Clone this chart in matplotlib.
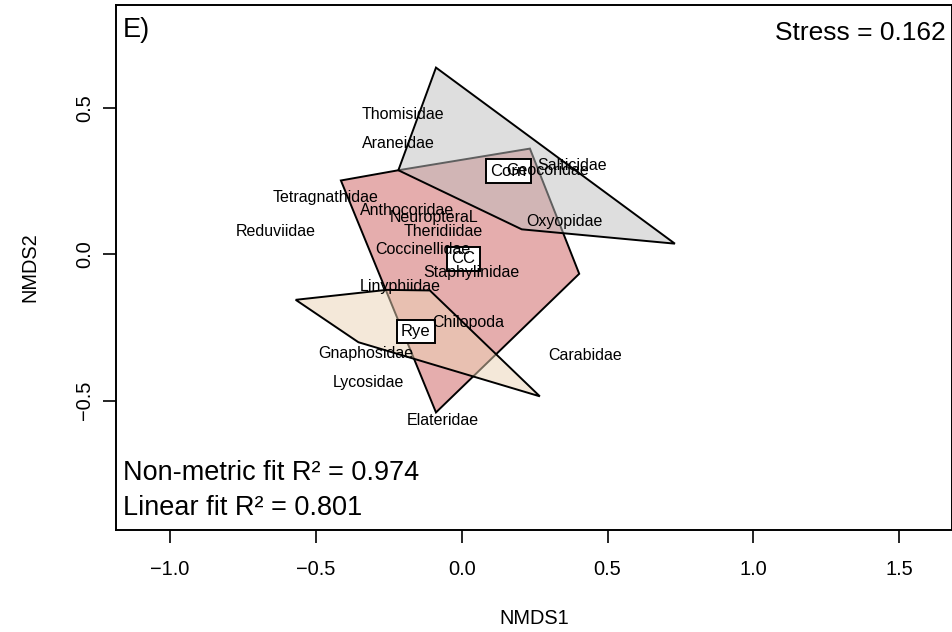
import matplotlib
matplotlib.use("Agg")
import matplotlib.pyplot as plt
from matplotlib.patches import Polygon

plt.rcParams['font.family'] = ['Liberation Sans', 'DejaVu Sans']

# Convex hull vertices of each group (NMDS1, NMDS2)
cc_x = [-0.414, -0.217, 0.234, 0.403, -0.088]
cc_y = [0.253, 0.288, 0.362, -0.066, -0.540]
corn_x = [-0.088, -0.217, 0.206, 0.731]
corn_y = [0.639, 0.288, 0.086, 0.037]
rye_x = [-0.569, -0.257, -0.109, 0.268, -0.354]
rye_y = [-0.155, -0.121, -0.123, -0.485, -0.300]

# Group label positions
groups = ["Corn", "CC", "Rye"]
group_x = [0.160, 0.006, -0.157]
group_y = [0.285, -0.015, -0.263]

# Species scores
species = ["Thomisidae", "Araneidae", "Salticidae", "Geocoridae", "Tetragnathidae",
           "Anthocoridae", "NeuropteraL", "Theridiidae", "Reduviidae", "Oxyopidae",
           "Coccinellidae", "Staphylinidae", "Linyphiidae", "Chilopoda", "Gnaphosidae",
           "Carabidae", "Lycosidae", "Elateridae"]
sp_x = [-0.200, -0.217, 0.380, 0.294, -0.465, -0.188, -0.095, -0.063, -0.637, 0.352,
        -0.134, 0.034, -0.212, 0.023, -0.329, 0.423, -0.319, -0.063]
sp_y = [0.478, 0.379, 0.305, 0.288, 0.196, 0.151, 0.126, 0.079, 0.079, 0.113,
        0.017, -0.061, -0.110, -0.232, -0.340, -0.344, -0.437, -0.568]

x_ticks = [-1.0, -0.5, 0.0, 0.5, 1.0, 1.5]
y_ticks = [-0.5, 0.0, 0.5]

fig = plt.figure(figsize=(9.53, 6.32), dpi=100)
ax = fig.add_axes([116/953, 102/632, 836/953, 525/632])
ax.set_xlim(-1.185, 1.681)
ax.set_ylim(-0.942, 0.853)

ax.add_patch(Polygon(list(zip(cc_x, cc_y)), closed=True, facecolor=(205/255, 92/255, 92/255, 0.5),
                     edgecolor='black', lw=1.4, zorder=2))
ax.add_patch(Polygon(list(zip(corn_x, corn_y)), closed=True, facecolor=(190/255, 190/255, 190/255, 0.5),
                     edgecolor='black', lw=1.4, zorder=3))
ax.add_patch(Polygon(list(zip(rye_x, rye_y)), closed=True, facecolor=(235/255, 211/255, 181/255, 0.5),
                     edgecolor='black', lw=1.4, zorder=4))

for g, gx, gy in zip(groups, group_x, group_y):
    ax.text(gx, gy, g, ha='center', va='center', fontsize=12, zorder=5,
            bbox=dict(boxstyle='square,pad=0.25', facecolor='white', edgecolor='black', lw=1.4))

for s, x, y in zip(species, sp_x, sp_y):
    ax.text(x, y, s, ha='center', va='center', fontsize=11.5, zorder=6)

ax.set_xticks(x_ticks)
ax.set_xticklabels([f"{v:.1f}".replace('-', '\u2212') for v in x_ticks])
ax.set_yticks(y_ticks)
ax.set_yticklabels([f"{v:.1f}".replace('-', '\u2212') for v in y_ticks], rotation=90, va='center')
ax.tick_params(direction='out', length=9.5, width=1.2, labelsize=14.4, pad=6)
ax.tick_params(axis='x', pad=12)
for sp in ax.spines.values():
    sp.set_linewidth(1.4)

ax.set_xlabel("NMDS1", fontsize=14.4, labelpad=22)
ax.set_ylabel("NMDS2", fontsize=14.4, labelpad=26)

ax.text(0.008, 0.977, "E)", transform=ax.transAxes, ha='left', va='top', fontsize=19.5)
ax.text(0.992, 0.970, "Stress = 0.162", transform=ax.transAxes, ha='right', va='top', fontsize=19)
ax.text(0.008, 0.095, "Non-metric fit R\u00b2 = 0.974", transform=ax.transAxes, ha='left',
        va='baseline', fontsize=19.5)
ax.text(0.008, 0.028, "Linear fit R\u00b2 = 0.801", transform=ax.transAxes, ha='left',
        va='baseline', fontsize=19.5)

fig.savefig("out.png", dpi=100)
